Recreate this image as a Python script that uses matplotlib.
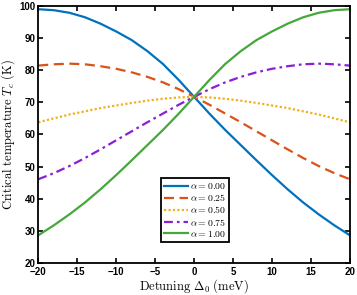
import numpy as np
import matplotlib.pyplot as plt

plt.rcParams['mathtext.fontset'] = 'cm'

detuning = [-20, -18, -16, -14, -12, -10, -8, -6, -4, -2, 0,
            2, 4, 6, 8, 10, 12, 14, 16, 18, 20]

# alpha = 0.00
tc_a000 = [98.9, 98.6, 97.8, 96.4, 94.4, 92.0, 89.3, 85.9, 81.9, 77.0, 71.7,
           66.4, 61.4, 56.7, 52.0, 47.4, 43.0, 38.9, 35.2, 31.8, 28.7]
# alpha = 0.25
tc_a025 = [81.4, 81.8, 82.0, 81.8, 81.2, 80.4, 79.3, 77.9, 76.2, 74.1, 71.7,
           69.2, 66.5, 63.8, 61.0, 58.2, 55.4, 52.7, 50.2, 48.0, 46.1]
# alpha = 0.50
tc_a050 = [63.8, 65.0, 66.2, 67.2, 68.2, 69.0, 69.8, 70.5, 71.1, 71.5, 71.7,
           71.5, 71.1, 70.5, 69.8, 69.0, 68.2, 67.2, 66.2, 65.0, 63.8]
# alpha = 0.75
tc_a075 = [46.1, 48.0, 50.2, 52.7, 55.4, 58.2, 61.0, 63.8, 66.5, 69.2, 71.7,
           74.1, 76.2, 77.9, 79.3, 80.4, 81.2, 81.8, 82.0, 81.8, 81.4]
# alpha = 1.00
tc_a100 = [28.7, 31.8, 35.2, 38.9, 43.0, 47.4, 52.0, 56.7, 61.4, 66.4, 71.7,
           77.0, 81.9, 85.9, 89.3, 92.0, 94.4, 96.4, 97.8, 98.6, 98.9]

labels = ['0.00', '0.25', '0.50', '0.75', '1.00']

fig = plt.figure(figsize=(3.57, 2.95), dpi=100)
ax = fig.add_axes([0.1073, 0.1075, 0.8727, 0.8732])

lw = 1.6
kw = dict(lw=lw, solid_joinstyle='round', dash_joinstyle='round')
ax.plot(detuning, tc_a000, color='#0072BD', ls='-', label=r'$\alpha = %s$' % labels[0], **kw)
ax.plot(detuning, tc_a025, color='#D95319', ls=(0, (4.5, 2.5)), label=r'$\alpha = %s$' % labels[1], **kw)
ax.plot(detuning, tc_a050, color='#F2B01E', ls=(0, (1, 1)), label=r'$\alpha = %s$' % labels[2], **kw)
ax.plot(detuning, tc_a075, color='#8A1FD6', ls=(0, (4, 1.8, 1.2, 1.8)), label=r'$\alpha = %s$' % labels[3], **kw)
ax.plot(detuning, tc_a100, color='#44A83A', ls='-', label=r'$\alpha = %s$' % labels[4], **kw)

ax.set_xlim(-20, 20)
ax.set_ylim(20, 100)
ax.set_xticks(np.arange(-20, 21, 5))
ax.set_yticks(np.arange(20, 101, 10))
ax.tick_params(direction='in', top=True, right=True, length=3.5, width=1.2, pad=2,
               labelsize=7)
ax.tick_params(axis='x', pad=3)
for lab in ax.get_xticklabels() + ax.get_yticklabels():
    lab.set_fontweight('bold')
    lab.set_family('Liberation Sans')
for s in ax.spines.values():
    s.set_linewidth(1.3)

ax.set_xlabel(r'$\mathrm{Detuning}\ \Delta_0\ \mathrm{(meV)}$', fontsize=9, labelpad=0)
ax.set_ylabel(r'$\mathrm{Critical\ temperature}\ T_c\ \mathrm{(K)}$', fontsize=9, labelpad=2)

leg = ax.legend(loc='lower left', bbox_to_anchor=(0.394, 0.084), borderaxespad=0,
                fontsize=7, handlelength=2.5, handletextpad=0.15, labelspacing=0.12,
                borderpad=0.3, fancybox=False, framealpha=1, edgecolor='black')
leg.get_frame().set_linewidth(1.3)

fig.savefig('out.png', dpi=100)
